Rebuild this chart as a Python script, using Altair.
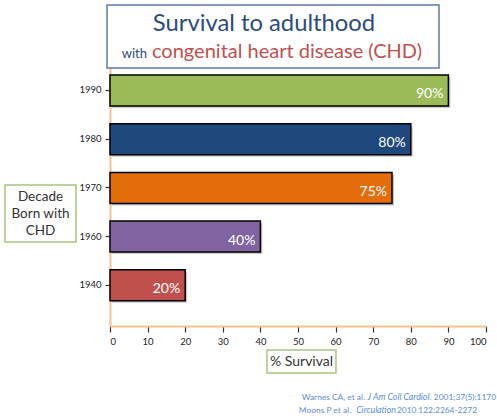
import altair as alt
import pandas as pd

decades = ["1990", "1980", "1970", "1960", "1940"]
survival = [90, 80, 75, 40, 20]
labels = ["90%", "80%", "75%", "40%", "20%"]
colors = ["#9BBB59", "#1F497D", "#E46C0A", "#8064A2", "#C0504D"]
x_ticks = [0, 10, 20, 30, 40, 50, 60, 70, 80, 90, 100]

df = pd.DataFrame({"decade": decades, "survival": survival, "label": labels, "color": colors})

FONT = "Lato"
W, H = 376, 259

y_enc = alt.Y("decade:N", sort=decades,
              scale=alt.Scale(paddingInner=0.364, paddingOuter=0.34, align=0.24),
              axis=alt.Axis(title="", domainColor="#F9C08F", domainWidth=2,
                            tickColor="#333333", tickSize=5, tickWidth=1.2,
                            labelFontSize=9.5, labelColor="#222222", labelPadding=4,
                            labelFont=FONT))
x_enc = alt.X("survival:Q", scale=alt.Scale(domain=[0, 100], nice=False),
              axis=alt.Axis(title="", values=x_ticks, domainColor="#F9C08F", domainWidth=2,
                            tickColor="#333333", tickSize=6, tickWidth=1.2, grid=False,
                            labelFontSize=9.5, labelColor="#222222", labelPadding=4,
                            labelFont=FONT, labelOverlap=False))

base = alt.Chart(df)

shadow = base.mark_bar(color="#888888", opacity=0.45, xOffset=2, yOffset=2).encode(x=x_enc, y=y_enc)
bars = base.mark_bar(stroke="black", strokeWidth=1.5).encode(
    x=x_enc, y=y_enc, color=alt.Color("color:N", scale=None))
text = base.mark_text(align="right", baseline="middle", dx=-5, dy=4, color="white",
                      fontSize=14, font=FONT).encode(x=x_enc, y=y_enc, text="label:N")

def box(x1, x2, y1, y2, stroke):
    return alt.Chart(pd.DataFrame({"a": [0]})).mark_rect(fill="white", stroke=stroke, strokeWidth=1.5).encode(
        x=alt.value(x1), x2=alt.value(x2), y=alt.value(y1), y2=alt.value(y2))

def txt(s, x, y, size, color, align="left", style="normal", baseline="alphabetic"):
    return alt.Chart(pd.DataFrame({"a": [0]})).mark_text(
        text=s, fontSize=size, color=color, align=align, font=FONT, fontStyle=style,
        baseline=baseline, lineHeight=17).encode(x=alt.value(x), y=alt.value(y))

OX, OY = 110, 67
title_box = box(107 - OX, 439 - OX, 5 - OY, 68 - OY, "#5A7BAA")
t1 = txt("Survival to adulthood", 264 - OX, 31 - OY, 23.8, "#2B4C7E", align="center")
t2a = txt("with", 147 - OX, 58 - OY, 13, "#2B4C7E", align="right")
t2b = txt("congenital heart disease (CHD)", 152 - OX, 58 - OY, 20, "#C0504D")

ybox = box(5 - OX, 76 - OX, 185 - OY, 242 - OY, "#A9C47F")
ylab = txt(["Decade", "Born with", "CHD"], 40.5 - OX, 197 - OY, 13.5, "#333333", align="center", baseline="middle")

xbox = box(267 - OX, 336 - OX, 350 - OY, 373 - OY, "#A9C47F")
xlab = txt("% Survival", 301.5 - OX, 362 - OY, 14, "#333333", align="center", baseline="middle")

fc = "#5B8ED6"
fs = 8.4
fi = 8.8
f1 = txt("Warnes CA, et al.", 365 - OX, 400 - OY, fs, fc, align="right")
f2 = txt("J Am Coll Cardiol", 398.5 - OX, 400 - OY, fi, fc, align="center", style="italic")
f3 = txt(". 2001;37(5):1170", 496 - OX, 400 - OY, fs, fc, align="right")
f4 = txt("Moons P et al.", 351 - OX, 413 - OY, fs, fc, align="right")
f5 = txt("Circulation", 376 - OX, 413 - OY, fi, fc, align="center", style="italic")
f6 = txt("2010.122:2264-2272", 477 - OX, 413 - OY, fs, fc, align="right")

chart = alt.layer(
    title_box, t1, t2a, t2b, ybox, ylab, xbox, xlab, f1, f2, f3, f4, f5, f6,
    shadow, bars, text
).properties(
    width=W, height=H,
    autosize=alt.AutoSizeParams(type="none"),
    padding={"left": OX, "top": OY, "right": 497 - OX - W, "bottom": 419 - OY - H},
    background="white",
).configure_view(strokeWidth=0)

chart.save("out.html", embed_options={"renderer": "svg", "actions": False})
